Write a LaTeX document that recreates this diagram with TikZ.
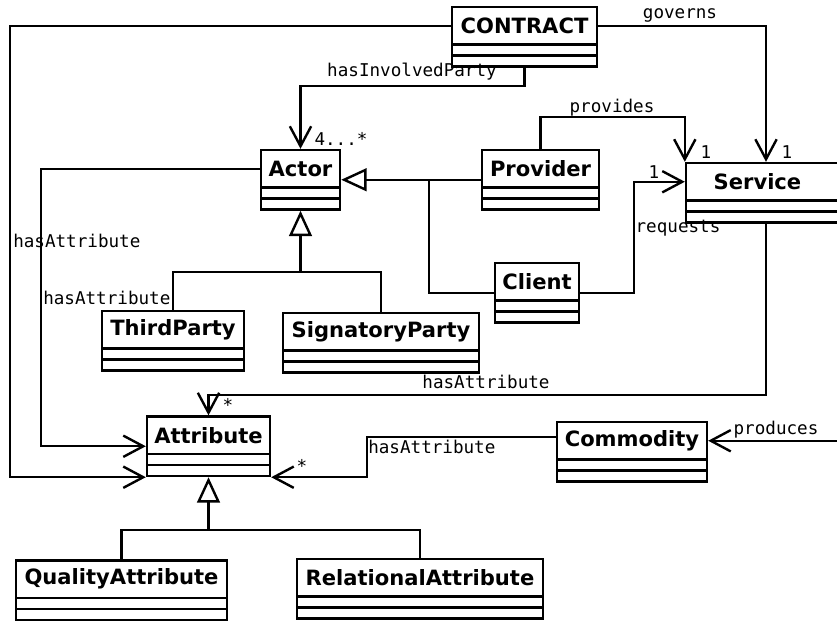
\documentclass[tikz,border=0pt]{standalone}
\usepackage{fontspec}
\usetikzlibrary{arrows.meta,fit,calc}
\newfontfamily\dvsans{DejaVu Sans}
\newfontfamily\dvmono{DejaVu Sans Mono}
\newcommand\namefont{\dvsans\bfseries\fontsize{15.8}{18}\selectfont}
\newcommand\lblfont{\dvmono\fontsize{13.2}{15}\selectfont}

\tikzset{
  wire/.style={line width=1.8pt, draw=black, line join=miter},
  classbox/.style={draw, line width=1.8pt, rectangle, inner sep=0pt, minimum size=0pt},
  namebox/.style={draw, line width=1.8pt, rectangle, inner sep=0pt, minimum size=0pt},
  classname/.style={font=\namefont, inner sep=0pt},
  lbl/.style={font=\lblfont, inner sep=0pt},
  assoc/.style={wire, -{Straight Barb[length=15pt,width=16pt]}},
  gen/.style={wire, -{Triangle[open,length=19pt,width=17pt,fill=white]}}
}

% UML class: id, left, top, right, title
\newcommand\umlclass[5]{%
  \node[classbox, fit={(#2,#3) (#4,{#3+59.5})}] (#1) {};
  \node[namebox, fit={(#2,#3) (#4,{#3+37.5})}] (#1N) {};
  \node[classname] at (#1N.center) {#5};
  \draw[wire] (#2,{#3+48.5}) -- (#4,{#3+48.5});
}

\begin{document}
\begin{tikzpicture}[x=0.75pt,y=-0.75pt]
\useasboundingbox (0,0) rectangle (837,621);
\clip (0,0) rectangle (837,621);

% classes
\umlclass{contract}{452}{7}{597}{CONTRACT}
\umlclass{actor}{261}{150}{340}{Actor}
\umlclass{provider}{482}{150}{599}{Provider}
\umlclass{service}{686}{163}{846}{}
\node[classname] at ([xshift=-6.4pt]serviceN.center) {Service};
\umlclass{client}{495}{263}{579}{Client}
\umlclass{third}{102}{311}{244}{ThirdParty}
\umlclass{signatory}{283}{313}{479}{SignatoryParty}
\umlclass{attr}{147}{416.5}{270}{Attribute}
\umlclass{commodity}{557}{422}{707}{Commodity}
\umlclass{quality}{16}{560.5}{227}{QualityAttribute}
\umlclass{relational}{297}{559}{543}{RelationalAttribute}

% CONTRACT has attributes
\draw[assoc] (contractN.west) -| (10,300) |- (attr.south west);
% CONTRACT involves actors
\draw[assoc] (contract.south) -- ++(0,18) -| (actor.north);
% CONTRACT governs service
\draw[assoc] (contractN.east) -| (service.north);

% Actor has attributes
\draw[assoc] (actorN.west) -| (41,300) |- (attr.west);

% Actor specialisations
\coordinate (jA) at (actor.south |- 0,272);
\draw[wire] (third.north) |- (jA) -| (signatory.north);
\draw[gen] (jA) -- (actor.south);

% Provider and Client generalise to Actor
\coordinate (jP) at (429,0 |- provider.west);
\draw[gen] (provider.west) -- (actor.east);
\draw[wire] (jP) |- (client.west);

% provides / requests
\draw[assoc] (provider.north) -- ++(0,-32) -| (service.north west);
\draw[assoc] (client.east) -- ++(54,0) |- (serviceN.west);

% Service has attributes
\draw[assoc] (service.south) -- ++(0,171) -| (attr.north);

% Commodity has attributes
\draw[assoc] ([yshift=3pt]commodityN.west) -| (367,460) |- (attr.south east);

% produces
\coordinate (prodEnd) at (845,0 |- commodityN.east);
\draw[assoc] (prodEnd) -- (commodityN.east);

% Attribute specialisations
\coordinate (jB) at (attr.south |- 0,530);
\draw[wire] (quality.north) |- (jB) -| (relational.north);
\draw[gen] (jB) -- (attr.south);

% labels
\node[lbl] at (412,72) {hasInvolvedParty};
\node[lbl] at (341,139) {4...*};
\node[lbl] at (680,15) {governs};
\node[lbl] at (612,108) {provides};
\node[lbl] at (706,152) {1};
\node[lbl] at (787,152) {1};
\node[lbl] at (654,172) {1};
\node[lbl] at (678,228) {requests};
\node[lbl, anchor=west] at (13,241) {hasAttribute};
\node[lbl, anchor=west] at (43,298) {hasAttribute};
\node[lbl] at (486,382) {hasAttribute};
\node[lbl] at (228,405) {*};
\node[lbl, anchor=west] at (368,447) {hasAttribute};
\node[lbl] at (302,466) {*};
\node[lbl] at (776,430) {produces};
\end{tikzpicture}
\end{document}
